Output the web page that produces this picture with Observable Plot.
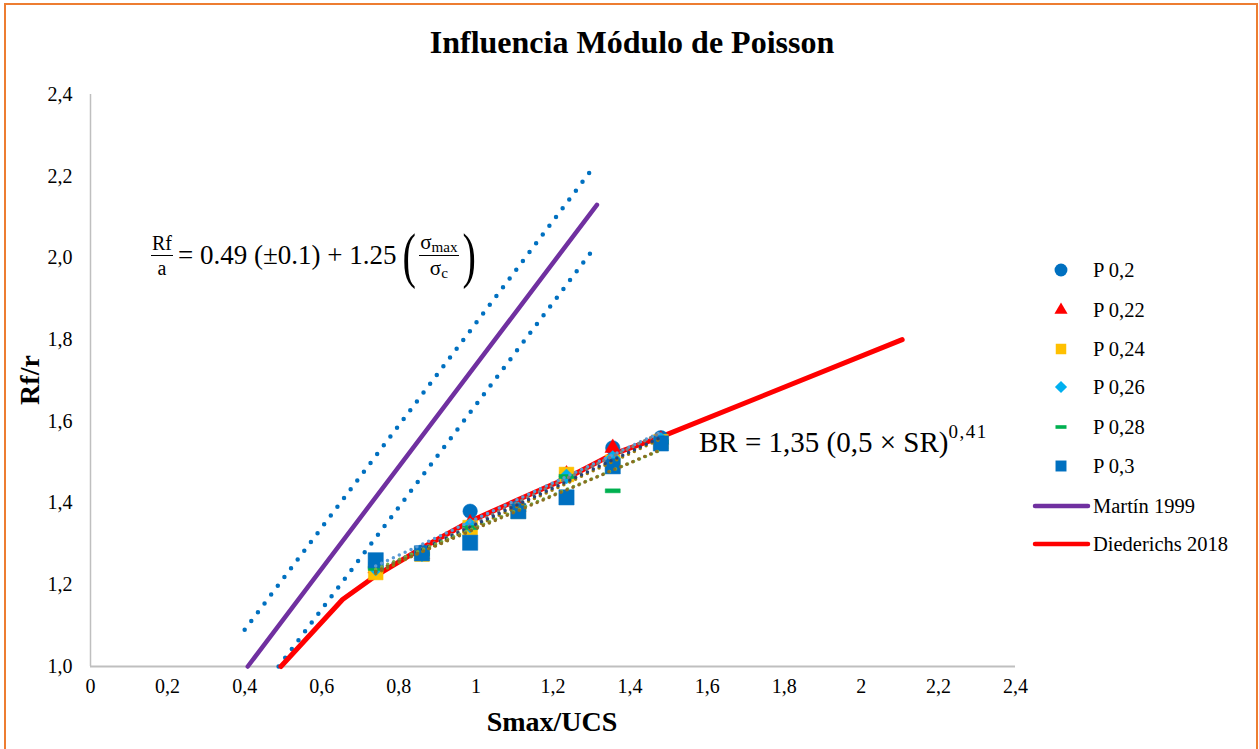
<!DOCTYPE html>
<html><head><meta charset="utf-8">
<script src="https://cdn.jsdelivr.net/npm/d3@7"></script>
<script src="https://cdn.jsdelivr.net/npm/@observablehq/plot@0.6"></script>
<style>
body{margin:0;background:#fff;font-family:"Liberation Serif","Times New Roman",serif;}
#wrap{position:relative;width:1259px;height:749px;overflow:hidden;background:#fff;}
#frame{position:absolute;left:4px;top:3px;width:1254px;height:800px;border:2.5px solid #ED7D31;box-sizing:border-box;pointer-events:none;}
.abs{position:absolute;white-space:nowrap;color:#000;}
#title{left:0;width:1264px;top:24px;text-align:center;font-weight:bold;font-size:32px;}
#xlab{left:0;width:1104px;top:706px;text-align:center;font-weight:bold;font-size:28px;}
#ylab{left:30px;top:380px;font-weight:bold;font-size:28px;transform:translate(-50%,-50%) rotate(-90deg);}
.eq{font-family:"Liberation Serif","Times New Roman",serif;display:flex;align-items:center;}
.frac{display:inline-flex;flex-direction:column;align-items:center;line-height:1;}
.frac .num{padding:0 1px 2px 1px;border-bottom:1.4px solid #000;}
.frac .den{padding-top:2px;}
.sub{font-size:0.72em;position:relative;top:0.25em;}
.par{font-size:62px;display:inline-block;line-height:1;transform:scaleX(0.65);}
</style></head><body>
<div id="wrap">
  <div id="plot"></div>
  <div id="title" class="abs">Influencia Módulo de Poisson</div>
  <div id="xlab" class="abs">Smax/UCS</div>
  <div id="ylab" class="abs">Rf/r</div>
  <div id="eq1" class="abs eq" style="left:151px;top:224px;font-size:27px;">
    <span class="frac" style="font-size:20px;"><span class="num">Rf</span><span class="den">a</span></span>
    <span style="margin-left:5px;">=&nbsp;0.49&nbsp;(±0.1)&nbsp;+&nbsp;1.25</span>
    <span class="par" style="margin-left:2px;">(</span>
    <span class="frac" style="font-size:21px;"><span class="num">σ<span class="sub">max</span></span><span class="den">σ<span class="sub">c</span></span></span>
    <span class="par">)</span>
  </div>
  <div id="eq2" class="abs" style="left:699px;top:426px;font-size:29px;">BR&nbsp;=&nbsp;1,35&nbsp;(0,5&nbsp;×&nbsp;SR)<span style="font-size:19px;position:relative;top:-14px;letter-spacing:1.5px;">0,41</span></div>
  <svg id="legend" class="abs" style="left:1020px;top:250px;" width="236" height="320"></svg>
  <div id="frame"></div>
</div>
<script>
// ---- data ----
const smax = [0.74, 0.86, 0.985, 1.11, 1.235, 1.355, 1.48];
const p020 = [1.25, 1.28, 1.38, 1.39, 1.47, 1.535, 1.56];
const p022 = [1.24, 1.275, 1.35, 1.39, 1.47, 1.535, 1.555];
const p024 = [1.23, 1.275, 1.34, 1.38, 1.47, 1.50, 1.55];
const p026 = [1.24, 1.275, 1.345, 1.385, 1.465, 1.51, 1.555];
const p028 = [1.24, 1.275, 1.34, 1.385, 1.465, 1.43, 1.55];
const p030 = [1.26, 1.277, 1.303, 1.38, 1.414, 1.49, 1.546];
const seriesNames = ["P 0,2", "P 0,22", "P 0,24", "P 0,26", "P 0,28", "P 0,3"];

const martinX = [0.408, 1.314];
const martinY = [1.0, 2.13];
const martinUpX = [0.40, 1.31];
const martinUpY = [1.09, 2.228];
const martinLoX = [0.488, 1.31];
const martinLoY = [1.0, 2.028];

const diedX = [0.494, 0.654, 0.74, 0.86, 0.984, 1.109, 1.234, 1.356, 1.48, 2.106];
const diedY = [1.0, 1.164, 1.222, 1.29, 1.355, 1.408, 1.46, 1.52, 1.562, 1.80];

const xTicks = [0, 0.2, 0.4, 0.6, 0.8, 1, 1.2, 1.4, 1.6, 1.8, 2, 2.2, 2.4];
const yTicks = [1.0, 1.2, 1.4, 1.6, 1.8, 2.0, 2.2, 2.4];

// ---- helpers ----
const pts = (xs, ys) => xs.map((x, i) => ({x, y: ys[i]}));
const dashSymbol = {draw(ctx, size) { const w = Math.sqrt(size); ctx.rect(-w / 2, -2, w, 4); }};

const seriesStyle = [
  {data: p020, symbol: "circle", r: 7.25, fill: "#0070C0", trend: "#5B9BD5"},
  {data: p022, symbol: "triangle", r: 5.8, fill: "#FF0000", trend: "#7F7F7F"},
  {data: p024, symbol: "square", r: 8.3, fill: "#FFC000", trend: "#9E7C0C"},
  {data: p026, symbol: "diamond2", r: 6.8, fill: "#00B0F0", trend: "#264478"},
  {data: p028, symbol: dashSymbol, r: 8.46, fill: "#00B050", trend: "#70AD47"},
  {data: p030, symbol: "square", r: 8.6, fill: "#0070C0", trend: "#8C6D1F"}
];

const dotted = {strokeDasharray: "0 11", strokeLinecap: "round", strokeWidth: 4.5, stroke: "#0070C0"};

const marks = [
  Plot.ruleX([0], {stroke: "#BFBFBF", strokeWidth: 1.5}),
  Plot.ruleY([1], {stroke: "#BFBFBF", strokeWidth: 2}),
  Plot.axisX({ticks: xTicks, tickSize: 0, tickPadding: 12, tickFormat: d => String(Math.round(d * 10) / 10).replace(".", ","), label: null, fontSize: 20}),
  Plot.axisY({ticks: yTicks, tickSize: 0, tickPadding: 18, tickFormat: d => d.toFixed(1).replace(".", ","), label: null, fontSize: 20}),
  Plot.line(pts(martinUpX, martinUpY), {x: "x", y: "y", ...dotted}),
  Plot.line(pts(martinLoX, martinLoY), {x: "x", y: "y", ...dotted}),
  Plot.line(pts(martinX, martinY), {x: "x", y: "y", stroke: "#7030A0", strokeWidth: 4.5}),
  Plot.line(pts(diedX, diedY), {x: "x", y: "y", stroke: "#FF0000", strokeWidth: 5, strokeLinejoin: "round", strokeLinecap: "round"})
];
for (const s of seriesStyle) {
  marks.push(Plot.dot(pts(smax, s.data), {x: "x", y: "y", symbol: s.symbol, r: s.r, fill: s.fill, stroke: s.fill, strokeWidth: 0.5}));
}
for (const s of seriesStyle) {
  marks.push(Plot.linearRegressionY(pts(smax, s.data), {x: "x", y: "y", ci: 0, stroke: s.trend, strokeWidth: 3.5, strokeDasharray: "0 6.5", strokeLinecap: "round"}));
}

const chart = Plot.plot({
  width: 1259, height: 749,
  marginLeft: 90, marginRight: 244, marginTop: 94, marginBottom: 83,
  x: {domain: [0, 2.4]},
  y: {domain: [1.0, 2.4]},
  style: {background: "transparent", fontFamily: "'Liberation Serif','Times New Roman',serif", fontSize: "20px", color: "#000", overflow: "visible"},
  marks
});
chart.style.position = "absolute";
chart.style.left = "0px";
chart.style.top = "0px";
document.getElementById("plot").appendChild(chart);

// ---- legend ----
const lg = d3.select("#legend");
const rowY = [20, 60, 99, 137, 177, 216, 256, 294];
const legSyms = [d3.symbolCircle, d3.symbolTriangle, d3.symbolSquare, d3.symbolDiamond2, null, d3.symbolSquare];
const legSizes = [130, 75, 110, 95, 0, 120];
seriesStyle.forEach((s, i) => {
  const g = lg.append("g").attr("transform", `translate(41,${rowY[i]})`);
  if (legSyms[i]) g.append("path").attr("d", d3.symbol(legSyms[i], legSizes[i])()).attr("fill", s.fill);
  else g.append("rect").attr("x", -5.5).attr("y", -1.8).attr("width", 11).attr("height", 3.6).attr("fill", s.fill);
  lg.append("text").attr("x", 73).attr("y", rowY[i]).attr("dy", "0.35em").attr("font-size", 20.5)
    .attr("font-family", "'Liberation Serif','Times New Roman',serif").text(seriesNames[i]);
});
const lineItems = [["Martín 1999", "#7030A0"], ["Diederichs 2018", "#FF0000"]];
lineItems.forEach(([name, col], j) => {
  const y = rowY[6 + j];
  lg.append("line").attr("x1", 15).attr("x2", 68).attr("y1", y).attr("y2", y).attr("stroke", col).attr("stroke-width", 4.5).attr("stroke-linecap", "round");
  lg.append("text").attr("x", 73).attr("y", y).attr("dy", "0.35em").attr("font-size", 20.5)
    .attr("font-family", "'Liberation Serif','Times New Roman',serif").text(name);
});
</script>
</body></html>
